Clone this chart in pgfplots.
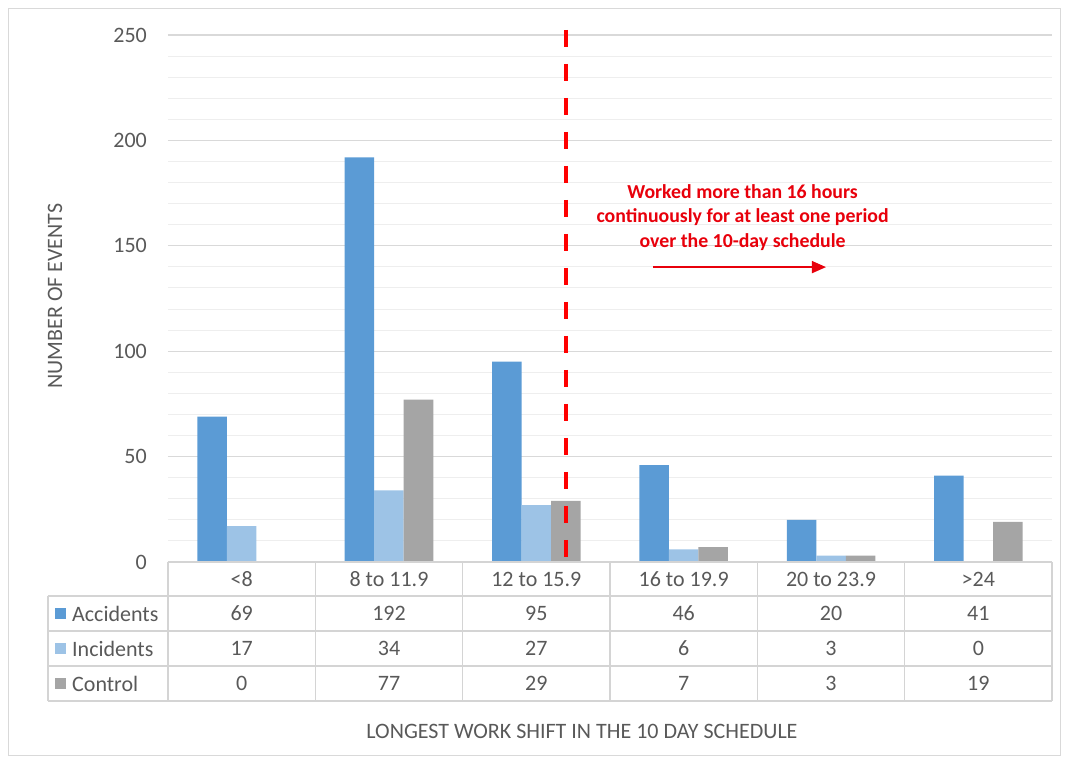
\documentclass[border=0pt]{standalone}
\usepackage{pgfplots}
\pgfplotsset{compat=1.18}
\usepackage{fontspec}
\setmainfont{Carlito}
\usetikzlibrary{arrows.meta}
\definecolor{acc}{HTML}{5B9BD5}
\definecolor{inc}{HTML}{9DC3E6}
\definecolor{ctl}{HTML}{A5A5A5}
\definecolor{txt}{HTML}{595959}
\definecolor{gridmaj}{HTML}{D9D9D9}
\definecolor{gridmin}{HTML}{EEEEEE}
\definecolor{tbl}{HTML}{D4D4D4}
\definecolor{annot}{HTML}{E8000B}
\newcommand\tfont{\fontsize{22}{26}\selectfont}
\begin{document}
\begin{tikzpicture}
\path (-168pt,-196pt) rectangle (898pt,562pt);
\draw[gridmaj, line width=1pt] (-159pt,-193pt) rectangle (892pt,553pt);
\begin{axis}[
 at={(0pt,0pt)}, anchor=south west,
 width=884pt, height=527pt, scale only axis,
 xmin=-0.5, xmax=5.5, ymin=0, ymax=250,
 ybar=0pt, bar width=29.5pt,
 axis line style={draw=none},
 xtick=\empty,
 ytick={0,50,...,250},
 minor ytick={10,20,30,40,60,70,80,90,110,120,130,140,160,170,180,190,210,220,230,240},
 ymajorgrids, yminorgrids,
 major grid style={gridmaj, line width=1.3pt},
 minor grid style={gridmin, line width=1pt},
 major tick length=0pt, minor tick length=0pt,
 yticklabel style={font=\tfont, text=txt, inner sep=0pt, anchor=east, xshift=-21pt},
 /pgf/number format/assume math mode=true,
 clip=false,
]
\addplot[draw=none, fill=acc] coordinates {(0,69) (1,192) (2,95) (3,46) (4,20) (5,41)};
\addplot[draw=none, fill=inc] coordinates {(0,17) (1,34) (2,27) (3,6) (4,3) (5,0)};
\addplot[draw=none, fill=ctl] coordinates {(0,0) (1,77) (2,29) (3,7) (4,3) (5,19)};
\draw[red, line width=4pt, dash pattern=on 17pt off 17pt] (axis cs:2.2,252.4) -- (axis cs:2.2,0);
\node[text=annot, font=\bfseries\fontsize{19.8}{24.5}\selectfont, align=center] at (axis cs:3.4,163.5) {Worked more than 16 hours\\continuously for at least one period\\over the 10-day schedule};
\draw[draw=annot, line width=1.5pt, -{Triangle[length=14pt,width=12pt]}] (axis cs:2.792,139.9) -- (axis cs:3.966,139.9);
\end{axis}
% data table
\draw[tbl, line width=1.3pt] (0pt,0pt) -- (884pt,0pt);
\foreach \y in {-34,-69,-104,-139} {\draw[tbl, line width=1.3pt] (-120pt,\y pt) -- (884pt,\y pt);}
\foreach \k in {0,...,6} {\draw[tbl, line width=1.3pt] (\k*147.333pt,0pt) -- (\k*147.333pt,-139pt);}
\draw[tbl, line width=1.3pt] (-120pt,-34pt) -- (-120pt,-139pt);
\foreach \lab [count=\i from 0] in {<8,8 to 11.9,12 to 15.9,16 to 19.9,20 to 23.9,>24}
  {\node[text=txt, font=\tfont] at (73.667pt+\i*147.333pt,-17pt) {\lab};}
\foreach \v [count=\i from 0] in {69,192,95,46,20,41}
  {\node[text=txt, font=\tfont] at (73.667pt+\i*147.333pt,-51.5pt) {\v};}
\foreach \v [count=\i from 0] in {17,34,27,6,3,0}
  {\node[text=txt, font=\tfont] at (73.667pt+\i*147.333pt,-86.5pt) {\v};}
\foreach \v [count=\i from 0] in {0,77,29,7,3,19}
  {\node[text=txt, font=\tfont] at (73.667pt+\i*147.333pt,-121.5pt) {\v};}
\foreach \c/\lab/\y in {acc/Accidents/-51.5,inc/Incidents/-86.5,ctl/Control/-121.5} {
  \fill[\c] (-113pt,\y pt-5.5pt) rectangle (-102pt,\y pt+5.5pt);
  \node[text=txt, font=\tfont, anchor=west, inner sep=0pt] at (-96pt,\y pt) {\lab};
}
\node[text=txt, font=\tfont] at (414pt,-169pt) {LONGEST WORK SHIFT IN THE 10 DAY SCHEDULE};
\node[text=txt, font=\tfont, rotate=90] at (-113pt,266pt) {NUMBER OF EVENTS};
\end{tikzpicture}
\end{document}
